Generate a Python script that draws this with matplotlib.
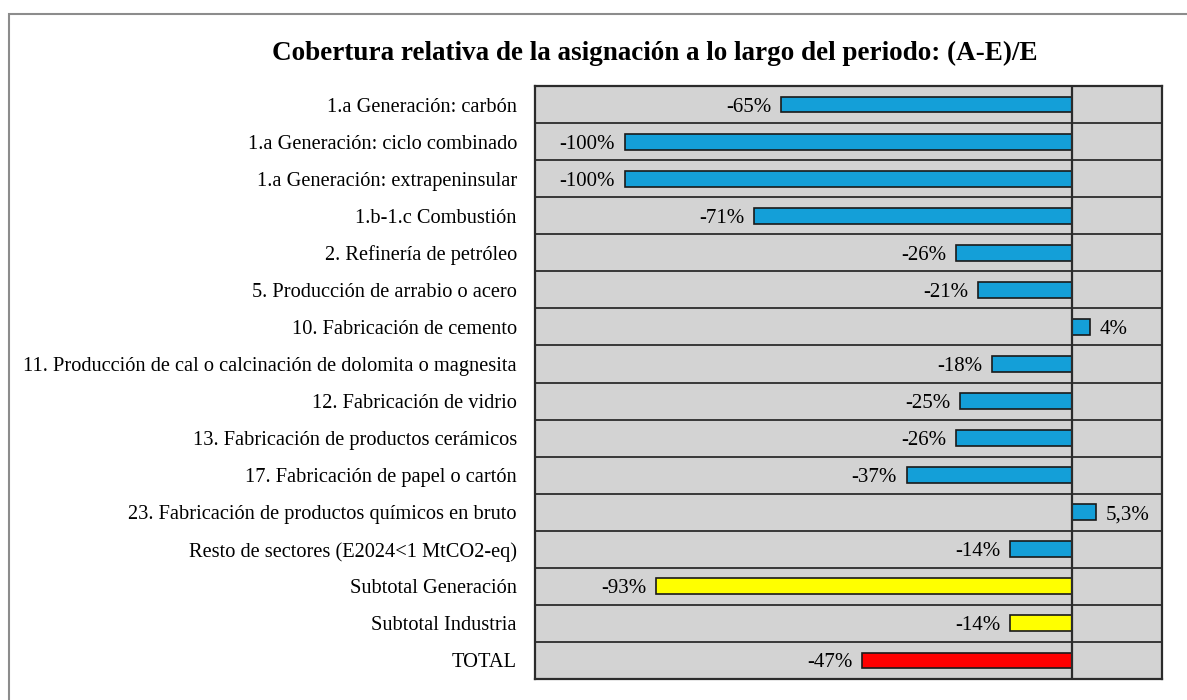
import numpy as np
import matplotlib.pyplot as plt
from matplotlib.patches import Rectangle

sectores = [
    "1.a Generación: carbón",
    "1.a Generación: ciclo combinado",
    "1.a Generación: extrapeninsular",
    "1.b-1.c Combustión",
    "2. Refinería de petróleo",
    "5. Producción de arrabio o acero",
    "10. Fabricación de cemento",
    "11. Producción de cal o calcinación de dolomita o magnesita",
    "12. Fabricación de vidrio",
    "13. Fabricación de productos cerámicos",
    "17. Fabricación de papel o cartón",
    "23. Fabricación de productos químicos en bruto",
    "Resto de sectores (E2024<1 MtCO2-eq)",
    "Subtotal Generación",
    "Subtotal Industria",
    "TOTAL",
]
cobertura = [-0.65, -1.00, -1.00, -0.71, -0.26, -0.21, 0.04, -0.18, -0.25, -0.26,
             -0.37, 0.053, -0.14, -0.93, -0.14, -0.47]
etiquetas = ["-65%", "-100%", "-100%", "-71%", "-26%", "-21%", "4%", "-18%", "-25%",
             "-26%", "-37%", "5,3%", "-14%", "-93%", "-14%", "-47%"]
tipo = ["sector"] * 13 + ["subtotal", "subtotal", "total"]
colores = {"sector": "#149fd8", "subtotal": "#ffff00", "total": "#ff0000"}

plt.rcParams['font.family'] = ['Liberation Serif', 'DejaVu Serif']

fig = plt.figure(figsize=(11.87, 7.0), dpi=100)
# marco exterior (se sale por la derecha y abajo)
fig.patches.append(Rectangle((9 / 1187, -0.1), 1.2, 1.1 - 14 / 700,
                             transform=fig.transFigure, fill=False,
                             edgecolor="#8c8c8c", lw=1.5))
ax = fig.add_axes([535 / 1187, 21 / 700, 627 / 1187, 593 / 700])
ax.set_facecolor("#d3d3d3")

y = np.arange(len(sectores))
cols = [colores[t] for t in tipo]
ax.barh(y, cobertura, height=0.43, color=cols, edgecolor="#1a1a1a", linewidth=1.2, zorder=3)

for yi, v, txt in zip(y, cobertura, etiquetas):
    if v < 0:
        ax.annotate(txt, (v, yi), xytext=(-7, 0), textcoords="offset points",
                    ha="right", va="center_baseline", fontsize=15)
    else:
        ax.annotate(txt, (v, yi), xytext=(7, 0), textcoords="offset points",
                    ha="left", va="center_baseline", fontsize=15)

for b in np.arange(len(sectores) + 1) - 0.5:
    ax.axhline(b, color="#2b2b2b", lw=1.3, zorder=2)
ax.axvline(0, color="#2b2b2b", lw=1.6, zorder=4)

ax.set_xlim(-1.2, 0.2)
ax.set_ylim(len(sectores) - 0.5, -0.5)
ax.set_yticks(y)
ax.set_yticklabels(sectores, fontsize=14.7, va="center_baseline")
ax.tick_params(axis="y", length=0, pad=13)
ax.set_xticks([])
for s in ax.spines.values():
    s.set_color("#2b2b2b")
    s.set_linewidth(1.6)

fig.text(655 / 1187, 1 - 53 / 700, "Cobertura relativa de la asignación a lo largo del periodo: (A-E)/E",
         ha="center", va="center", fontsize=19.5, fontweight="bold")

fig.savefig("out.png", dpi=100)
